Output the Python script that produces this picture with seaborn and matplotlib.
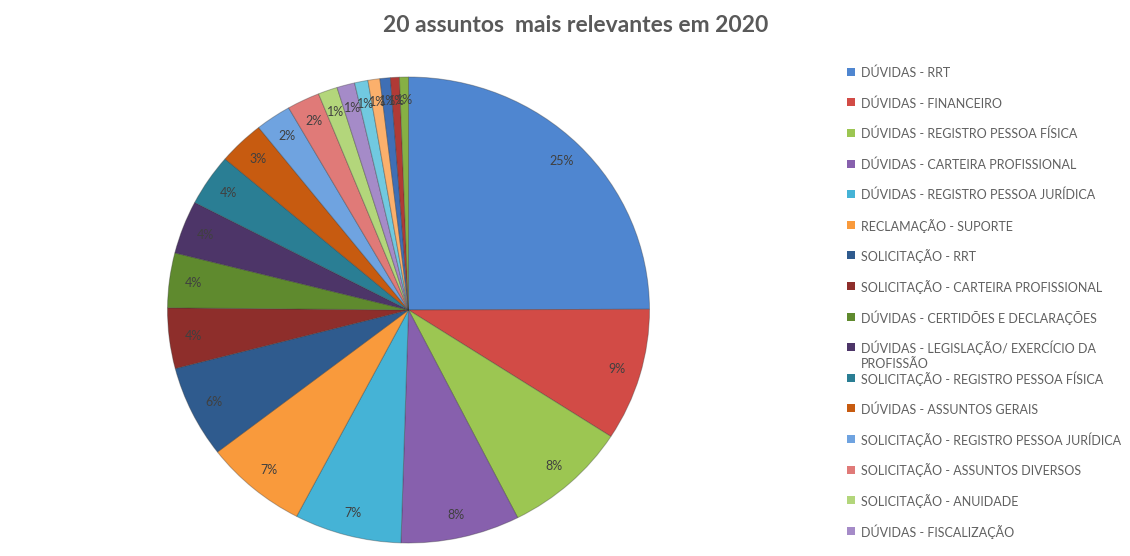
import matplotlib
matplotlib.use("Agg")
import matplotlib.pyplot as plt
from matplotlib.patches import Rectangle
import seaborn as sns

# 20 assuntos (21 fatias no grafico), valores em %
subjects = [
    "DÚVIDAS - RRT",
    "DÚVIDAS - FINANCEIRO",
    "DÚVIDAS - REGISTRO PESSOA FÍSICA",
    "DÚVIDAS - CARTEIRA PROFISSIONAL",
    "DÚVIDAS - REGISTRO PESSOA JURÍDICA",
    "RECLAMAÇÃO - SUPORTE",
    "SOLICITAÇÃO - RRT",
    "SOLICITAÇÃO - CARTEIRA PROFISSIONAL",
    "DÚVIDAS - CERTIDÕES E DECLARAÇÕES",
    "DÚVIDAS - LEGISLAÇÃO/ EXERCÍCIO DA\nPROFISSÃO",
    "SOLICITAÇÃO - REGISTRO PESSOA FÍSICA",
    "DÚVIDAS - ASSUNTOS GERAIS",
    "SOLICITAÇÃO - REGISTRO PESSOA JURÍDICA",
    "SOLICITAÇÃO - ASSUNTOS DIVERSOS",
    "SOLICITAÇÃO - ANUIDADE",
    "DÚVIDAS - FISCALIZAÇÃO",
]
shares = [25.0, 9.2, 8.4, 8.0, 7.2, 6.9, 6.4, 4.2, 3.8, 3.7, 3.6,
          3.1, 2.4, 2.2, 1.3, 1.2, 0.9, 0.8, 0.7, 0.6, 0.6]

# excel-like palette
slice_colors = [
    "#4f86d0", "#d24b46", "#9cc652", "#8760ad", "#45b3d6", "#f99a3c",
    "#2f5b8e", "#8e2e2b", "#5f8a2e", "#4d3568", "#2a7e94", "#c75b10",
    "#6fa3e0", "#e07a78", "#b3d67b", "#a58bc8", "#71c9e0", "#fbb06c",
    "#3f6fb5", "#b03a36", "#86b044",
]

sns.set_style("white")
plt.rcParams["font.family"] = ["Lato", "DejaVu Sans"]

W, H = 1130, 556
fig = plt.figure(figsize=(W / 100, H / 100), dpi=100)

cx, cy, rx, ry = 408.5, 310, 241, 233
ax = fig.add_axes([(cx - rx) / W, (H - cy - ry) / H, 2 * rx / W, 2 * ry / H])
wedges, texts, autotexts = ax.pie(
    shares,
    colors=slice_colors,
    startangle=90,
    counterclock=False,
    autopct="%1.0f%%",
    pctdistance=0.9,
    wedgeprops=dict(edgecolor=(0.2, 0.2, 0.2, 0.35), linewidth=0.7),
    textprops=dict(color="#404040", fontsize=9),
)
ax.set_aspect("auto")
ax.set_xlim(-1, 1)
ax.set_ylim(-1, 1)
ax.axis("off")

fig.text(576 / W, 1 - 25 / H, "20 assuntos  mais relevantes em 2020",
         ha="center", va="center", fontsize=16.5, fontweight="bold", color="#595959")

# legend drawn by hand so the wrapped entry spills over like in excel
y0, step = 71.7, 30.6
for i, label in enumerate(subjects):
    yc = y0 + i * step
    fig.patches.append(Rectangle((847 / W, 1 - (yc + 4) / H), 8 / W, 8 / H,
                                 transform=fig.transFigure,
                                 facecolor=slice_colors[i], edgecolor="none"))
    for j, line in enumerate(label.split("\n")):
        fig.text(861 / W, 1 - (yc + j * 15.4) / H, line, ha="left",
                 va="center_baseline", fontsize=9, color="#606060")

fig.savefig("out.png", dpi=100, facecolor="white")
